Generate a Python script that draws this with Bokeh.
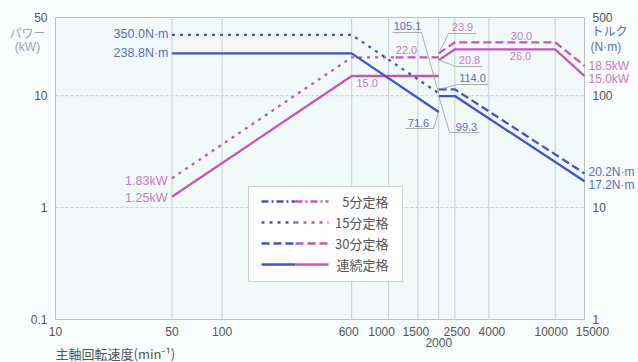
import math
from bokeh.plotting import figure
from bokeh.models import LogScale, LinearScale, Range1d, Label
from bokeh.embed import file_html
from bokeh.resources import INLINE

# ---------------- data ----------------
x_ticks = [10, 50, 100, 600, 1000, 1500, 2000, 2500, 4000, 10000, 15000]
kw_ticks = [0.1, 1, 10, 50]
nm_ticks = [1, 10, 100, 500]

# low-speed winding
cont_kw_lo_rpm = [50, 600, 2000]
cont_kw_lo = [1.25, 15.0, 15.0]
cont_nm_lo_rpm = [50, 600, 2000]
cont_nm_lo = [238.8, 238.8, 71.6]
m15_kw_lo_rpm = [50, 600, 1100]
m15_kw_lo = [1.83, 22.0, 22.0]
m15_nm_lo_rpm = [50, 600, 2000]
m15_nm_lo = [350.0, 350.0, 105.1]
m30_kw_lo_rpm = [1100, 2000]
m30_kw_lo = [22.0, 22.0]
# high-speed winding
cont_kw_hi_rpm = [2000, 2500, 10000, 15000]
cont_kw_hi = [20.8, 26.0, 26.0, 15.0]
cont_nm_hi_rpm = [2000, 2500, 15000]
cont_nm_hi = [99.3, 99.3, 17.2]
m30_kw_hi_rpm = [2000, 2500, 10000, 15000]
m30_kw_hi = [23.9, 30.0, 30.0, 18.5]
m30_nm_hi_rpm = [2000, 2500, 15000]
m30_nm_hi = [114.0, 114.0, 20.2]

legend_labels = ["5分定格", "15分定格", "30分定格", "連続定格"]

# ---------------- style ----------------
BLUE = "#3f56c4"
MAG = "#c457b8"
BLUE_T = "#5a6cc4"
MAG_T = "#c87bc2"
GRAY_T = "#555555"
LEAD = "#9a9a9a"
GRID = "#c6d0d0"
NUM_FONT = "Liberation Sans"
JP_FONT = "Noto Sans CJK JP"
DOT = "3 5"
DASH = "8 4"
DASHDOT = "7 3 2 3"
LW = 2.3

# plot box in page pixels (layout)
W, H = 638, 362
FX0, FX1, FY0, FY1 = 55, 584, 17, 319
XMIN, XMAX, YMIN, YMAX = 10, 15000, 0.1, 50
XTICK_SHIFT = {600: -3, 1000: -7, 1500: -2, 2500: 2, 4000: 3, 10000: -4, 15000: 8}


def rpm_at(px):
    lo, hi = math.log10(XMIN), math.log10(XMAX)
    return 10 ** (lo + (px - FX0) / (FX1 - FX0) * (hi - lo))


def kw_at(py):
    lo, hi = math.log10(YMIN), math.log10(YMAX)
    return 10 ** (hi - (py - FY0) / (FY1 - FY0) * (hi - lo))


def nm_at(py):
    return kw_at(py) * 10


# the frame covers the whole canvas so that margin texts are not clipped
p = figure(width=W, height=H, x_axis_type="log", y_axis_type="log",
           x_range=Range1d(rpm_at(0), rpm_at(W)), y_range=Range1d(kw_at(H), kw_at(0)),
           x_axis_location=None, y_axis_location=None,
           output_backend="svg", toolbar_location=None,
           min_border=0, min_border_left=0, min_border_right=0,
           min_border_top=0, min_border_bottom=0)
p.background_fill_color = "#f8fcfc"
p.border_fill_color = "#f8fcfc"
p.outline_line_color = None
p.xgrid.visible = False
p.ygrid.visible = False

p.extra_y_ranges = {"torque": Range1d(nm_at(H), nm_at(0)), "ly": Range1d(H, 0)}
p.extra_y_scales = {"torque": LogScale(), "ly": LinearScale()}
p.extra_x_ranges = {"lx": Range1d(0, W)}
p.extra_x_scales = {"lx": LinearScale()}

# plot area and grid
p.quad(left=[XMIN], right=[XMAX], bottom=[YMIN], top=[YMAX],
       fill_color="#f1f9f9", line_color="#b8c2c2", line_width=1)
inner_x = [t for t in x_ticks if XMIN < t < XMAX]
p.segment(x0=inner_x, x1=inner_x, y0=[YMIN] * len(inner_x), y1=[YMAX] * len(inner_x),
          color=GRID, line_width=1)
inner_y = [t for t in kw_ticks if YMIN < t < YMAX]
p.segment(x0=[XMIN] * len(inner_y), x1=[XMAX] * len(inner_y), y0=inner_y, y1=inner_y,
          color=GRID, line_width=1, line_dash="3 2")

# ---------------- curves ----------------
p.line(cont_kw_lo_rpm, cont_kw_lo, color=MAG, line_width=LW)
p.line(m15_kw_lo_rpm, m15_kw_lo, color=MAG, line_width=LW, line_dash=DOT)
p.line(m30_kw_lo_rpm, m30_kw_lo, color=MAG, line_width=LW, line_dash=DASH)
p.line(cont_kw_hi_rpm, cont_kw_hi, color=MAG, line_width=LW)
p.line(m30_kw_hi_rpm, m30_kw_hi, color=MAG, line_width=LW, line_dash=DASH)
p.line(cont_nm_lo_rpm, cont_nm_lo, color=BLUE, line_width=LW, y_range_name="torque")
p.line(m15_nm_lo_rpm, m15_nm_lo, color=BLUE, line_width=LW, line_dash=DOT, y_range_name="torque")
p.line(cont_nm_hi_rpm, cont_nm_hi, color=BLUE, line_width=LW, y_range_name="torque")
p.line(m30_nm_hi_rpm, m30_nm_hi, color=BLUE, line_width=LW, line_dash=DASH, y_range_name="torque")

# ---------------- leaders ----------------
def leader(x0, y0, pts, rng="default"):
    xs = [x0] + [rpm_at(a) for a, b in pts]
    conv = nm_at if rng == "torque" else kw_at
    ys = [y0] + [conv(b) for a, b in pts]
    if rng == "torque":
        p.line(xs, ys, color=LEAD, line_width=0.8, y_range_name="torque")
    else:
        p.line(xs, ys, color=LEAD, line_width=0.8)

leader(m15_nm_lo_rpm[-1], m15_nm_lo[-1], [(421, 32), (392, 32)], "torque")
leader(m30_kw_hi_rpm[0], m30_kw_hi[0], [(448, 33), (476, 33)])
leader(cont_kw_hi_rpm[0], cont_kw_hi[0], [(455, 66), (482, 66)])
leader(m30_nm_hi_rpm[0], m30_nm_hi[0], [(457, 84), (488, 84)], "torque")
leader(cont_nm_lo_rpm[-1], cont_nm_lo[-1], [(433, 128), (405, 128)], "torque")
leader(cont_nm_hi_rpm[0], cont_nm_hi[0], [(449, 132), (479, 132)], "torque")

# ---------------- texts ----------------
def lab(s, x, y, color, align="center", font=NUM_FONT, size="11px",
        xr="lx", yr="ly", dx=0, dy=0):
    p.add_layout(Label(x=x, y=y, text=s, x_range_name=xr, y_range_name=yr,
                       x_offset=dx, y_offset=dy,
                       text_align=align, text_baseline="middle", text_color=color,
                       text_font=font, text_font_size=size))

# tick labels
for t in x_ticks:
    if t == 2000:
        lab(str(t), t, 342, GRAY_T, size="12px", xr="default")
    else:
        lab(str(t), t, 331, GRAY_T, size="12px", xr="default", dx=XTICK_SHIFT.get(t, 0))
for t in kw_ticks:
    lab(f"{t:g}", 47, t, GRAY_T, "right", size="12px", yr="default")
for t in nm_ticks:
    lab(f"{t:g}", 592, t, GRAY_T, "left", size="12px", yr="torque")

# axis titles
lab("パワー", 27, 32, "#a8a0aa", font=JP_FONT, size="12px")
lab("(kW)", 27, 46, "#a8a0aa", size="12px")
lab("トルク", 591, 30, BLUE_T, "left", font=JP_FONT, size="12px")
lab("(N·m)", 590, 46, BLUE_T, "left", size="12px")
lab("主軸回転速度(min⁻¹)", 55, 353, GRAY_T, "left", font=JP_FONT, size="13px")

# value annotations
lab(f"{m15_nm_lo[0]:.1f}N·m", 168, 33, BLUE_T, "right", size="12.5px")
lab(f"{cont_nm_lo[0]:.1f}N·m", 168, 52, BLUE_T, "right", size="12.5px")
lab(f"{m15_kw_lo[0]:.2f}kW", 167, 180, MAG_T, "right", size="12.5px")
lab(f"{cont_kw_lo[0]:.2f}kW", 167, 197, MAG_T, "right", size="12.5px")
lab(f"{cont_kw_lo[1]:.1f}", 356, 82, MAG_T, "left")
lab(f"{m15_kw_lo[1]:.1f}", 406, 49, MAG_T)
lab(f"{m15_nm_lo[-1]:.1f}", 407, 25, BLUE_T)
lab(f"{m30_kw_hi[0]:.1f}", 462, 26, MAG_T)
lab(f"{m30_kw_hi[1]:.1f}", 521, 35, MAG_T)
lab(f"{cont_kw_hi[0]:.1f}", 469, 59, MAG_T)
lab(f"{cont_kw_hi[1]:.1f}", 520, 55, MAG_T)
lab(f"{m30_nm_hi[0]:.1f}", 472, 77, BLUE_T)
lab(f"{cont_nm_lo[-1]:.1f}", 418, 122, BLUE_T)
lab(f"{cont_nm_hi[0]:.1f}", 466, 126, BLUE_T)
lab(f"{m30_kw_hi[-1]:.1f}kW", 588, 65, MAG_T, "left", size="12px")
lab(f"{cont_kw_hi[-1]:.1f}kW", 588, 78, MAG_T, "left", size="12px")
lab(f"{m30_nm_hi[-1]:.1f}N·m", 588, 171, BLUE_T, "left", size="12px")
lab(f"{cont_nm_hi[-1]:.1f}N·m", 588, 184, BLUE_T, "left", size="12px")

# ---------------- legend (drawn) ----------------
p.quad(left=[248], right=[402], top=[186], bottom=[281], x_range_name="lx", y_range_name="ly",
       fill_color="white", line_color="#c8d0d0", line_width=1)
leg_dashes = [DASHDOT, DOT, DASH, "solid"]
leg_y = [201, 222, 243, 264]
for txt_, dsh, yy in zip(legend_labels, leg_dashes, leg_y):
    p.line([261, 295], [yy, yy], x_range_name="lx", y_range_name="ly", color=BLUE,
           line_width=LW, line_dash=dsh)
    p.line([295, 328], [yy, yy], x_range_name="lx", y_range_name="ly", color=MAG,
           line_width=LW, line_dash=dsh)
    lab(txt_, 388, yy, GRAY_T, "right", font=JP_FONT, size="13px")

open("out.html", "w").write(file_html(p, INLINE))
